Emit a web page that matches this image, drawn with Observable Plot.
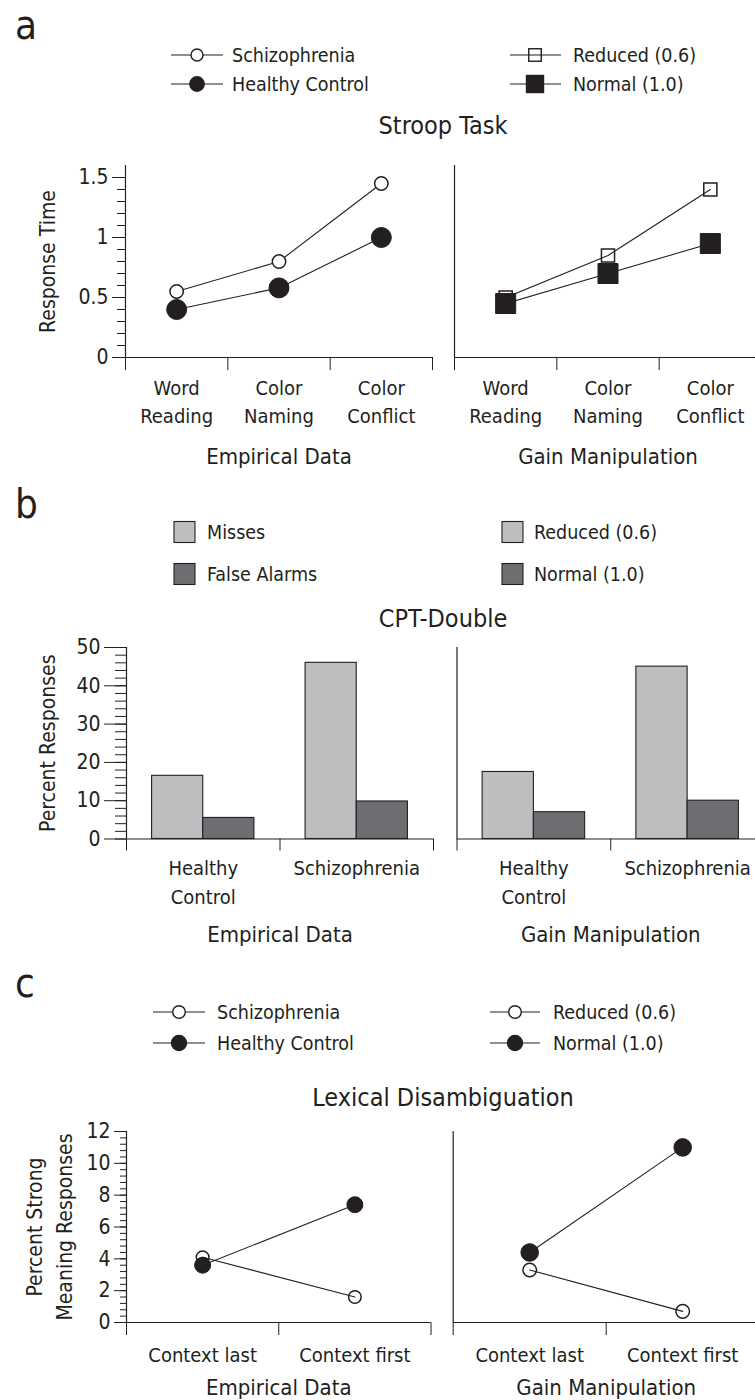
<!DOCTYPE html>
<html>
<head>
<meta charset="utf-8">
<script src="https://cdn.jsdelivr.net/npm/d3@7"></script>
<script src="https://cdn.jsdelivr.net/npm/@observablehq/plot@0.6"></script>
<style>
  html, body { margin: 0; padding: 0; background: #fff; overflow: hidden; }
  #page { position: relative; width: 755px; height: 1400px; overflow: hidden; background: #fff;
          font-family: "DejaVu Sans Condensed", "Liberation Sans Narrow", "DejaVu Sans", sans-serif; font-stretch: condensed; }
  #page svg { position: absolute; left: 0; overflow: visible; max-width: none !important; }
</style>
</head>
<body>
<div id="page"></div>
<script>
// ---------- DATA ----------
// (a) Stroop task
const stroopTasks = ["Word\nReading", "Color\nNaming", "Color\nConflict"];
const stroopSchizophrenia = [0.55, 0.80, 1.45];
const stroopHealthy = [0.40, 0.58, 1.00];
const stroopReduced = [0.50, 0.85, 1.40];
const stroopNormal = [0.45, 0.70, 0.95];
const stroopYTicks = [0, 0.5, 1, 1.5];

// (b) CPT-Double
const cptGroups = ["Healthy\nControl", "Schizophrenia"];
const cptEmpiricalMisses = [16.5, 46.0];
const cptEmpiricalFalseAlarms = [5.5, 9.8];
const cptGainMisses = [17.5, 45.0];
const cptGainFalseAlarms = [7.0, 10.0];
const cptYTicks = [0, 10, 20, 30, 40, 50];

// (c) Lexical disambiguation
const lexConditions = ["Context last", "Context first"];
const lexSchizophrenia = [4.1, 1.6];
const lexHealthy = [3.6, 7.4];
const lexReduced = [3.3, 0.7];
const lexNormal = [4.4, 11.0];
const lexYTicks = [0, 2, 4, 6, 8, 10, 12];

// ---------- STYLE ----------
const FONT = '"DejaVu Sans Condensed", "Liberation Sans Narrow", "DejaVu Sans", sans-serif';
const INK = "#231f20";
const LIGHT = "#bcbec0";
const DARK = "#6d6e71";

const page = document.getElementById("page");

function rows(values, series) {
  return values.map((v, i) => ({i, v, series}));
}

function subplot(o) {
  const W = 790, mt = 30, mb = 140;
  const n = o.cats.length;
  const marks = [];
  if (o.showY) {
    marks.push(Plot.axisY({ticks: o.minor, tickSize: o.minorLen, tickFormat: () => "", label: null, stroke: INK}));
    marks.push(Plot.axisY({ticks: o.major, tickSize: o.majorLen, tickPadding: 4, fontSize: 21,
      tickFormat: d => String(d), label: null, stroke: INK}));
  }
  marks.push(Plot.axisX({ticks: d3.range(n + 1), tickSize: o.xTickLen, tickFormat: () => "", label: null, stroke: INK}));
  marks.push(Plot.ruleX([0], {stroke: INK, strokeWidth: 1.2}));
  marks.push(Plot.ruleY([0], {stroke: INK, strokeWidth: 1.2}));
  marks.push(Plot.text(o.cats, {x: (d, i) => i + 0.5, text: d => d, frameAnchor: "bottom",
    textAnchor: "middle", lineAnchor: "top", dy: o.tickDy, fontSize: 20, lineHeight: 1.43, fill: INK}));
  marks.push(Plot.text([o.xLabel], {text: d => d, frameAnchor: "bottom", textAnchor: "middle", lineAnchor: "middle",
    dy: o.xLabelDy, fontSize: 22, fill: INK}));
  if (o.yLabel) {
    marks.push(Plot.text([o.yLabel], {text: d => d, frameAnchor: "left", rotate: -90, textAnchor: "middle",
      lineAnchor: "middle", dx: o.yLabelX - o.frameLeft, fontSize: 21, lineHeight: 1.43, fill: INK}));
  }
  marks.push(...o.marks);
  const svg = Plot.plot({
    width: W,
    height: o.frameBottom - o.frameTop + mt + mb,
    marginLeft: o.frameLeft,
    marginRight: W - o.frameRight,
    marginTop: mt,
    marginBottom: mb,
    x: {domain: [0, n], axis: null},
    y: {domain: o.yDomain, axis: null},
    style: {fontFamily: FONT, color: INK, background: "transparent", overflow: "visible", maxWidth: "none"},
    marks
  });
  svg.style.top = (o.frameTop - mt) + "px";
  svg.style.maxWidth = "none";
  svg.style.width = W + "px";
  svg.style.height = (o.frameBottom - o.frameTop + mt + mb) + "px";
  page.append(svg);
}

function lineMarks(openVals, filledVals, symbol, openR, filledR, openFill, openName, filledName) {
  const openRows = rows(openVals, openName);
  const filledRows = rows(filledVals, filledName);
  const all = openRows.concat(filledRows);
  return [
    Plot.line(all, {x: d => d.i + 0.5, y: "v", z: "series", stroke: INK, strokeWidth: 1.1}),
    Plot.dot(openRows, {x: d => d.i + 0.5, y: "v", symbol, r: openR, fill: openFill, stroke: INK, strokeWidth: 1.5}),
    Plot.dot(filledRows, {x: d => d.i + 0.5, y: "v", symbol, r: filledR, fill: INK, stroke: INK, strokeWidth: 1})
  ];
}

function barMarks(misses, fas) {
  const data = rows(misses, "m").concat(rows(fas, "f"));
  return [
    Plot.rectY(data, {
      x1: d => d.series === "m" ? d.i + 0.5 - 1 / 3 : d.i + 0.5,
      x2: d => d.series === "m" ? d.i + 0.5 : d.i + 0.5 + 1 / 3,
      y: "v",
      fill: d => d.series === "m" ? LIGHT : DARK,
      stroke: INK, strokeWidth: 1.1
    })
  ];
}

// ---------- PANEL A ----------
const aCommon = {cats: stroopTasks, yDomain: [0, 1.6], frameTop: 165, frameBottom: 357,
  major: stroopYTicks, minor: d3.range(0, 16).map(k => k / 10), majorLen: 13, minorLen: 8,
  xTickLen: 13, tickDy: 17, xLabelDy: 99};
subplot({...aCommon, frameLeft: 125, frameRight: 432, showY: true, yLabel: "Response Time", yLabelX: 45,
  xLabel: "Empirical Data",
  marks: lineMarks(stroopSchizophrenia, stroopHealthy, "circle", 6.7, 10, "white", "Schizophrenia", "Healthy Control")});
subplot({...aCommon, frameLeft: 454, frameRight: 761, showY: false, xLabel: "Gain Manipulation",
  marks: lineMarks(stroopReduced, stroopNormal, "square", 7.4, 11.3, "none", "Reduced (0.6)", "Normal (1.0)")});

// ---------- PANEL B ----------
const bCommon = {cats: cptGroups, yDomain: [0, 50], frameTop: 646.5, frameBottom: 838,
  major: cptYTicks, minor: d3.range(0, 51, 2), majorLen: 22, minorLen: 11,
  xTickLen: 12, tickDy: 16, xLabelDy: 96};
subplot({...bCommon, frameLeft: 126, frameRight: 433, showY: true, yLabel: "Percent Responses", yLabelX: 45,
  xLabel: "Empirical Data", marks: barMarks(cptEmpiricalMisses, cptEmpiricalFalseAlarms)});
subplot({...bCommon, frameLeft: 456.5, frameRight: 764, showY: false,
  xLabel: "Gain Manipulation", marks: barMarks(cptGainMisses, cptGainFalseAlarms)});

// ---------- PANEL C ----------
const cCommon = {cats: lexConditions, yDomain: [0, 12], frameTop: 1131, frameBottom: 1322,
  major: lexYTicks, minor: d3.range(0, 31).map(k => k * 0.4), majorLen: 12, minorLen: 6,
  xTickLen: 13, tickDy: 19, xLabelDy: 65};
subplot({...cCommon, frameLeft: 126, frameRight: 430.5, showY: true,
  yLabel: "Percent Strong\nMeaning Responses", yLabelX: 47,
  xLabel: "Empirical Data",
  marks: lineMarks(lexSchizophrenia, lexHealthy, "circle", 6.3, 8, "none", "Schizophrenia", "Healthy Control")});
subplot({...cCommon, frameLeft: 452.7, frameRight: 758.7, showY: false, xLabel: "Gain Manipulation",
  marks: lineMarks(lexReduced, lexNormal, "circle", 6.8, 8.8, "none", "Reduced (0.6)", "Normal (1.0)")});

// ---------- LETTERS, LEGENDS, TITLES (overlay) ----------
const ov = d3.select(page).insert("svg", ":first-child")
  .attr("width", 755).attr("height", 1400).style("top", "0px")
  .style("font-family", FONT).attr("fill", INK);

[["a", 39], ["b", 518], ["c", 997]].forEach(([t, y]) =>
  ov.append("text").attr("x", 15).attr("y", y).attr("font-size", 40).text(t));

[["Stroop Task", 125], ["CPT-Double", 618], ["Lexical Disambiguation", 1097]].forEach(([t, y]) =>
  ov.append("text").attr("x", 443).attr("y", y).attr("font-size", 25)
    .attr("text-anchor", "middle").attr("dominant-baseline", "central").text(t));

function lineLegend(x0, x1, cx, tx, y, label, shape, filled, size) {
  ov.append("line").attr("x1", x0).attr("x2", x1).attr("y1", y).attr("y2", y)
    .attr("stroke", INK).attr("stroke-width", 1.1);
  if (shape === "circle") {
    ov.append("circle").attr("cx", cx).attr("cy", y).attr("r", size)
      .attr("fill", filled ? INK : "white").attr("stroke", INK).attr("stroke-width", 1.4);
  } else {
    ov.append("rect").attr("x", cx - size / 2).attr("y", y - size / 2).attr("width", size).attr("height", size)
      .attr("fill", filled ? INK : "none").attr("stroke", INK).attr("stroke-width", 1.4);
  }
  ov.append("text").attr("x", tx).attr("y", y).attr("font-size", 19.5)
    .attr("dominant-baseline", "central").text(label);
}
function boxLegend(x, tx, y, label, color) {
  ov.append("rect").attr("x", x).attr("y", y - 10.5).attr("width", 21).attr("height", 21)
    .attr("fill", color).attr("stroke", INK).attr("stroke-width", 1.1);
  ov.append("text").attr("x", tx).attr("y", y).attr("font-size", 19.5)
    .attr("dominant-baseline", "central").text(label);
}

// legend a
lineLegend(171, 223, 197, 232, 55, "Schizophrenia", "circle", false, 6);
lineLegend(171, 223, 197, 232, 84, "Healthy Control", "circle", true, 7.2);
lineLegend(510, 561, 535, 573, 55, "Reduced (0.6)", "square", false, 12.5);
lineLegend(510, 561, 535, 573, 84, "Normal (1.0)", "square", true, 17);
// legend b
boxLegend(174, 207, 532, "Misses", LIGHT);
boxLegend(174, 207, 574, "False Alarms", DARK);
boxLegend(502, 534, 532, "Reduced (0.6)", LIGHT);
boxLegend(502, 534, 574, "Normal (1.0)", DARK);
// legend c
lineLegend(153, 205, 179, 217, 1012, "Schizophrenia", "circle", false, 6.3);
lineLegend(153, 205, 179, 217, 1043, "Healthy Control", "circle", true, 7.5);
lineLegend(490, 540, 515, 553, 1012, "Reduced (0.6)", "circle", false, 6.3);
lineLegend(490, 540, 515, 553, 1043, "Normal (1.0)", "circle", true, 7.5);
</script>
</body>
</html>
